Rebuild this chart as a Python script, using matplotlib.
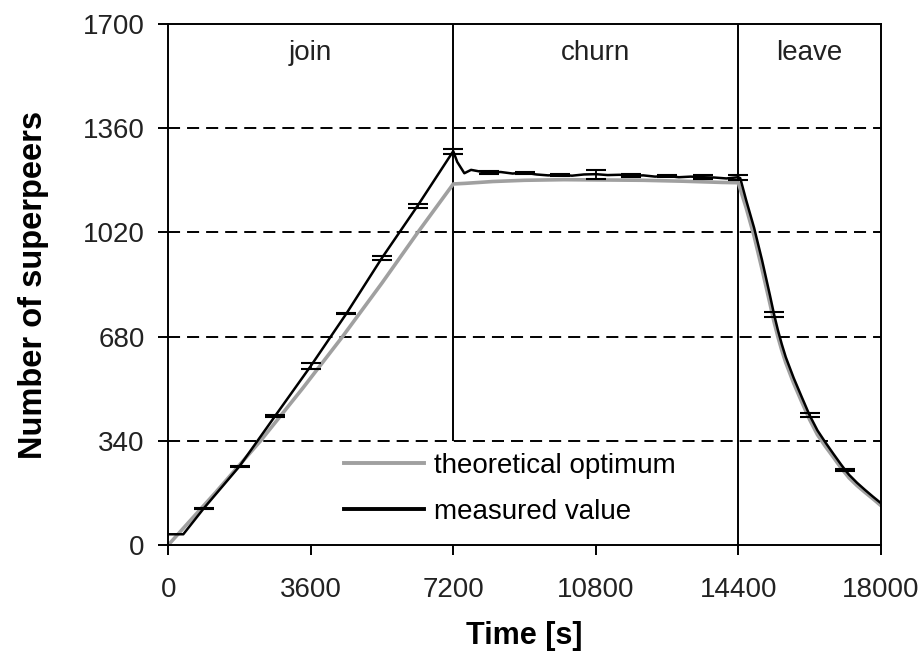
import matplotlib
matplotlib.use("Agg")
import matplotlib.pyplot as plt
import numpy as np

plt.rcParams['font.family'] = ['Liberation Sans', 'DejaVu Sans']

# theoretical optimum (grey)
theo_t = [0, 1200, 2332, 3400, 4403, 5400, 6305, 7200,
          7500, 8200, 9000, 10000, 11000, 12000, 13000, 14000, 14400,
          14600, 14800, 15000, 15200, 15300, 15400, 15500, 15600, 15800,
          16000, 16200, 16400, 16600, 16800, 17000, 17200, 17400, 17600,
          17800, 18000]
theo_v = [0, 172, 340, 512, 680, 855, 1020, 1178,
          1180, 1186, 1190, 1192, 1191, 1190, 1187, 1183, 1182,
          1100, 1008, 900, 788, 730, 680, 635, 595, 528,
          468, 410, 360, 322, 287, 251, 219, 194, 172,
          151, 129]

# measured value (black)
meas_t = [0, 380, 900, 1800, 2700, 3600, 4500, 5400, 6300, 7200,
          7300, 7480, 7650, 7900, 8100, 8400, 8700, 9000, 9300, 9600, 9900,
          10200, 10500, 10800, 11100, 11400, 11700, 12000, 12300, 12600,
          12900, 13200, 13500, 13800, 14100, 14400,
          14450, 14600, 14800, 15000, 15200, 15300, 15400, 15500, 15600,
          15800, 16000, 16200, 16400, 16600, 16800, 17000, 17100, 17200,
          17400, 17600, 17800, 18000]
meas_v = [35, 35, 120, 257, 421, 584, 755, 937, 1107, 1285,
          1250, 1213, 1224, 1218, 1216, 1217, 1212, 1215, 1209, 1206, 1208,
          1205, 1209, 1210, 1207, 1208, 1205, 1206, 1202, 1204,
          1200, 1202, 1200, 1199, 1196, 1200,
          1197, 1125, 1035, 930, 815, 755, 702, 655, 613,
          545, 484, 424, 374, 335, 298, 262, 245, 229,
          203, 180, 158, 137]

# error bars of the measured value
eb_t = [900, 1800, 2700, 3600, 4500, 5400, 6300, 7200, 8100, 9000,
        9900, 10800, 11700, 12600, 13500, 14400, 15300, 16200, 17100]
eb_v = [120, 257, 421, 584, 755, 937, 1107, 1285, 1216, 1215,
        1208, 1210, 1205, 1204, 1200, 1200, 752, 424, 245]
eb_err = [2, 2, 2, 9, 2, 6, 7, 8, 4, 3, 4, 15, 4, 4, 6, 8, 9, 7, 2]

phases = ['join', 'churn', 'leave']
phase_mid = [3600, 10800, 16200]
phase_bounds = [7200, 14400]

xticks = [0, 3600, 7200, 10800, 14400, 18000]
yticks = [0, 340, 680, 1020, 1360, 1700]

fig = plt.figure(figsize=(9.24, 6.59), dpi=100)
ax = fig.add_axes([0.1821, 0.1730, 0.7711, 0.7906])

for y in yticks[1:-1]:
    ax.axhline(y, color='black', lw=1.4, linestyle=(0, (6.2, 3.6)), zorder=1)

ax.vlines(phase_bounds[0], 340, 1700, color='black', lw=1.4, zorder=1)
ax.vlines(phase_bounds[1], 0, 1700, color='black', lw=1.4, zorder=1)

ax.plot(theo_t, theo_v, color='#a0a0a0', lw=2.6, label='theoretical optimum', zorder=2)
ax.plot(meas_t, meas_v, color='black', lw=1.8, label='measured value', zorder=3)
ax.errorbar(eb_t, eb_v, yerr=eb_err, fmt='none', ecolor='black',
            elinewidth=1.3, capsize=7, capthick=1.5, zorder=4)

for name, xm in zip(phases, phase_mid):
    ax.text(xm, 1606, name, ha='center', va='center', fontsize=20, color='#222222')

ax.set_xlim(0, 18000)
ax.set_ylim(0, 1700)
ax.set_xticks(xticks)
ax.set_yticks(yticks)
ax.tick_params(axis='both', direction='out', width=1.4, length=7,
               labelsize=20, labelcolor='#222222')
ax.tick_params(axis='x', pad=16)
ax.tick_params(axis='y', pad=10)
for s in ax.spines.values():
    s.set_linewidth(1.4)

ax.set_xlabel('Time [s]', fontsize=22, fontweight='bold', labelpad=13)
ax.set_ylabel('Number of superpeers', fontsize=23.5, fontweight='bold', labelpad=24)

leg = ax.legend(loc='upper left', bbox_to_anchor=(0.246, 0.177), frameon=False,
                fontsize=20, handlelength=2.9, handletextpad=0.35,
                labelspacing=0.72, borderpad=0, borderaxespad=0)
for line in leg.get_lines():
    line.set_linewidth(2.8)

plt.savefig('out.png', dpi=100)
